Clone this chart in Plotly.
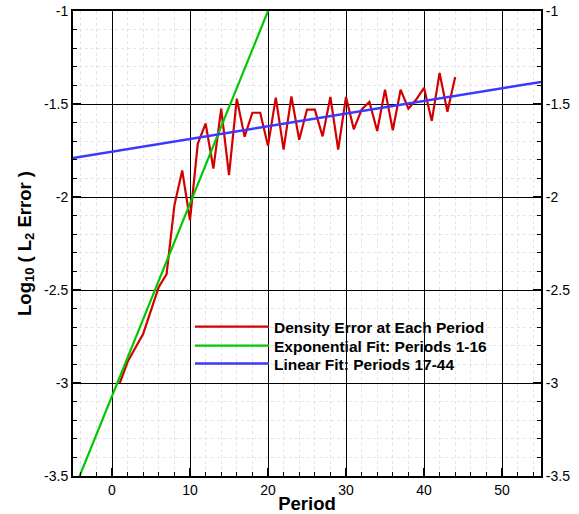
import plotly.graph_objects as go

# ---- data ----
periods = list(range(1, 45))
density_error = [-3.00, -2.886, -2.81, -2.735, -2.61, -2.484, -2.415, -2.045, -1.857, -2.125,
                 -1.713, -1.605, -1.847, -1.525, -1.883, -1.471, -1.676, -1.547, -1.547, -1.725,
                 -1.466, -1.745, -1.459, -1.692, -1.530, -1.530, -1.674, -1.462, -1.745, -1.462,
                 -1.636, -1.530, -1.489, -1.645, -1.423, -1.641, -1.423, -1.525, -1.476, -1.413,
                 -1.591, -1.333, -1.542, -1.355]
exp_fit_x = [-5, 20]
exp_fit_y = [-3.588, -1.0]
lin_fit_x = [-5, 55]
lin_fit_y = [-1.790, -1.381]

x_range = [-5, 55]
y_range = [-3.5, -1]
y_tickvals = [-3.5, -3, -2.5, -2, -1.5, -1]
y_ticktext = ["-3.5", "-3", "-2.5", "-2", "-1.5", "-1"]
x_tickvals = [0, 10, 20, 30, 40, 50]
x_ticktext = ["0", "10", "20", "30", "40", "50"]

names = ["Density Error at Each Period", "Exponential Fit: Periods 1-16", "Linear Fit: Periods 17-44"]
colors = ["#d40000", "#00c800", "#3a3aff"]

FONT = "Liberation Sans, Arial, Helvetica, sans-serif"

fig = go.Figure()
fig.add_trace(go.Scatter(x=periods, y=density_error, mode="lines", name="<b>" + names[0] + "</b>",
                         line=dict(color=colors[0], width=2.2), legend="legend"))
fig.add_trace(go.Scatter(x=exp_fit_x, y=exp_fit_y, mode="lines", name="<b>" + names[1] + "</b>",
                         line=dict(color=colors[1], width=2.2), legend="legend2"))
fig.add_trace(go.Scatter(x=lin_fit_x, y=lin_fit_y, mode="lines", name="<b>" + names[2] + "</b>",
                         line=dict(color=colors[2], width=2.5), legend="legend3"))
# invisible trace to anchor the right axis
fig.add_trace(go.Scatter(x=[x_range[0]], y=[y_range[0]], yaxis="y2", mode="markers",
                         marker=dict(opacity=0), showlegend=False, hoverinfo="skip"))

minor_grid = dict(showgrid=True, griddash="dot", gridcolor="#e4e4e4", gridwidth=1,
                  ticks="inside", ticklen=4, tickcolor="black", tickwidth=1)


def leg(ypos):
    return dict(x=0.25, y=ypos, xanchor="left", yanchor="middle",
                bgcolor="rgba(0,0,0,0)", borderwidth=0,
                font=dict(family=FONT, size=15.5, color="black"),
                itemwidth=74)


fig.update_layout(
    width=579, height=514,
    margin=dict(l=73, r=38, t=11, b=38),
    paper_bgcolor="white", plot_bgcolor="white",
    font=dict(family=FONT, size=14, color="black"),
    xaxis=dict(range=x_range, tickvals=x_tickvals, ticktext=x_ticktext, automargin=False,
               showline=True, linecolor="black", linewidth=2, mirror=True,
               ticks="inside", ticklen=8, tickwidth=1.5, tickcolor="black",
               showgrid=True, gridcolor="black", gridwidth=1, zeroline=False,
               minor=dict(dtick=2, **minor_grid),
               title=dict(text="<b>Period</b>", font=dict(size=18.5), standoff=0)),
    yaxis=dict(range=y_range, tickvals=y_tickvals, ticktext=y_ticktext, automargin=False,
               showline=True, linecolor="black", linewidth=2,
               ticks="inside", ticklen=8, tickwidth=1.5, tickcolor="black",
               showgrid=True, gridcolor="black", gridwidth=1, zeroline=False,
               minor=dict(dtick=0.1, **minor_grid),
               title=dict(text="<b>Log<sub>10</sub> ( L<sub>2</sub> Error )</b>", font=dict(size=18.5), standoff=8)),
    yaxis2=dict(range=y_range, tickvals=y_tickvals, ticktext=y_ticktext, automargin=False,
                overlaying="y", side="right", matches="y",
                showline=True, linecolor="black", linewidth=2,
                ticks="inside", ticklen=8, tickwidth=1.5, tickcolor="black",
                showgrid=False, zeroline=False,
                minor=dict(dtick=0.1, ticks="inside", ticklen=4, tickcolor="black", tickwidth=1, showgrid=False)),
    legend=leg(0.3204),
    legend2=leg(0.2796),
    legend3=leg(0.2409),
    showlegend=True,
)

fig.write_html("out.html")
